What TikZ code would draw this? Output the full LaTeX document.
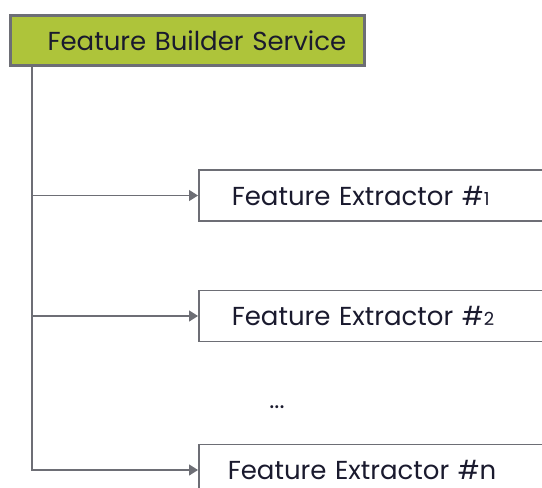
\documentclass[tikz,border=0pt]{standalone}
\usepackage{fontspec}
\setmainfont{Poppins}
\usetikzlibrary{arrows.meta}
\definecolor{lineg}{HTML}{6D6E75}
\definecolor{fbgreen}{HTML}{AEC43A}
\definecolor{txt}{HTML}{1A1A2E}
\begin{document}
\begin{tikzpicture}[x=1pt,y=-1pt,
  fbox/.style={draw=lineg, line width=3.5pt, fill=fbgreen, minimum width=354pt, minimum height=50pt, inner ysep=0pt, inner xsep=4pt, text width=346pt, align=left, font=\fontsize{26}{30}\selectfont, text=txt},
  exbox/.style={draw=lineg, line width=1.5pt, fill=white, minimum width=362pt, minimum height=51pt, inner ysep=0pt, inner xsep=33pt, text width=296pt, align=left, anchor=west, font=\fontsize{26}{30}\selectfont, text=txt},
  conn/.style={draw=lineg, line width=1.5pt},
  arr/.style={conn, -{Triangle[length=9pt,width=11pt]}}]
\useasboundingbox (0,0) rectangle (542,488);
\clip (0,0) rectangle (542,488);
\node[fbox] (fbs) at (187.5,40.5) {\hspace*{33pt}\mbox{Feature Builder Service}};
\node[exbox] (e1) at (198,195.5) {\mbox{Feature Extractor \#{\fontsize{18}{20}\selectfont 1}}};
\node[exbox] (e2) at (198,316) {\mbox{Feature Extractor \#{\fontsize{18}{20}\selectfont 2}}};
\node[exbox, inner xsep=29pt, text width=304pt] (en) at (198,470) {\mbox{Feature Extractor \#n}};
\node[font=\fontsize{24}{28}\selectfont, text=txt] (dots) at (277,407) {...};
\coordinate (top) at (32,67);
\draw[arr] (top) |- (en.west);
\draw[arr] (top |- e1.west) -- (e1.west);
\draw[arr] (top |- e2.west) -- (e2.west);
\end{tikzpicture}
\end{document}
